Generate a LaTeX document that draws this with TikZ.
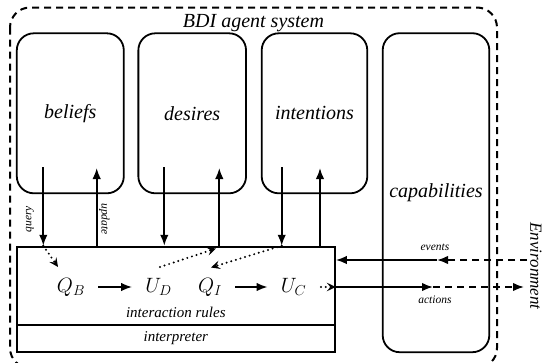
\documentclass[tikz,border=0pt]{standalone}
\usepackage{fontspec}
\setmainfont{Liberation Serif}
\usetikzlibrary{arrows.meta}
\begin{document}
\begin{tikzpicture}[x=1pt,y=-1pt,
  rbox/.style={draw, line width=1.8pt, rounded corners=17pt, minimum width=107pt, minimum height=160pt, inner sep=0pt},
  sqbox/.style={draw, line width=1.8pt, inner sep=0pt},
  arr/.style={line width=1.8pt, -{Latex[length=11pt,width=8.5pt]}},
  dotarr/.style={line width=2.2pt, line cap=round, dash pattern=on 0pt off 4.8pt, -{Stealth[length=9pt,width=8.5pt,inset=3.5pt]}},
  envdash/.style={dash pattern=on 7pt off 5pt},
  big/.style={font=\fontsize{20}{24}\selectfont\itshape},
  mid/.style={font=\fontsize{15}{18}\selectfont\itshape},
  small/.style={font=\fontsize{11.5}{13}\selectfont\itshape, inner sep=0pt},
  envt/.style={font=\fontsize{17}{20}\selectfont\itshape},
  mathn/.style={font=\fontsize{20.74}{24}\selectfont, inner xsep=13pt, inner ysep=0pt}
]
\useasboundingbox (0,0) rectangle (547,362);
% outer system boundary
\draw[line width=2pt, envdash, rounded corners=20pt] (10,7.5) rectangle (497,368);
\node[big, anchor=base] (title) at (253.5,27) {BDI agent system};
% components
\node[rbox, big] (beliefs) at (70.3,113.3) {beliefs};
\node[rbox, big, minimum width=107.7pt] (desires) at (192.2,113.3) {desires};
\node[rbox, big, minimum width=105.6pt] (intentions) at (314.5,113.3) {intentions};
\node[rbox, big, minimum width=106.6pt, minimum height=319pt] (cap) at (436,192.7) {capabilities};
% interaction rules and interpreter
\node[sqbox, minimum width=318.3pt, minimum height=78.3pt] (rules) at (175.8,285.8) {};
\node[sqbox, mid, line width=2.1pt, minimum width=318.3pt, minimum height=26.7pt] (interp) at (175.8,338.3) {interpreter};
\node[mid] (irl) at (175.8,312.5) {interaction rules};
% math nodes
\node[mathn] (QB) at (71,287) {$Q_B$};
\node[mathn] (UD) at (158.5,287) {$U_D$};
\node[mathn] (QI) at (210,287) {$Q_I$};
\node[mathn] (UC) at (293.5,287) {$U_C$};
\draw[arr] (QB) -- (UD);
\draw[arr] (QI) -- (UC);
% vertical arrows
\coordinate (bq) at (43.3,167);
\coordinate (bu) at (96.7,168);
\coordinate (dq) at (164.3,167);
\coordinate (du) at (219.3,168);
\coordinate (iq) at (281.7,167);
\coordinate (iu) at (320,168);
\draw[arr] (bq) -- (bq |- rules.north);
\draw[arr] (bu |- rules.north) -- (bu);
\draw[arr] (dq) -- (dq |- rules.north);
\draw[arr] (du |- rules.north) -- (du);
\draw[arr] (iq) -- (iq |- rules.north);
\draw[arr] (iu |- rules.north) -- (iu);
\node[small, rotate=90] (qlab) at (30,219) {query};
\node[small, rotate=-90] (ulab) at (104.5,219) {update};
% dotted internal arrows
\coordinate (qbt) at (58,267);
\coordinate (uds) at (160,267);
\coordinate (dut) at (216,248.5);
\coordinate (qit) at (211,267.5);
\coordinate (ucs) at (321,287);
\draw[dotarr] (bq |- rules.north) -- (qbt);
\draw[dotarr] (uds) -- (dut);
\draw[dotarr] (iq |- rules.north) -- (qit);
\draw[dotarr] (ucs) -- (ucs -| rules.east);
% environment links
\coordinate (evs) at (527,260);
\coordinate (evm) at (437,260);
\coordinate (acm) at (433,287);
\coordinate (ace) at (524,287);
\draw[arr, envdash] (evs) -- (evm);
\draw[arr] (evm) -- (evm -| rules.east);
\draw[arr] (acm -| rules.east) -- (acm);
\draw[arr, envdash] (acm) -- (ace);
\node[small] (evl) at (435,247) {events};
\node[small] (acl) at (435,300) {actions};
\node[envt, rotate=-90] (env) at (536,266) {Environment};
\end{tikzpicture}
\end{document}
